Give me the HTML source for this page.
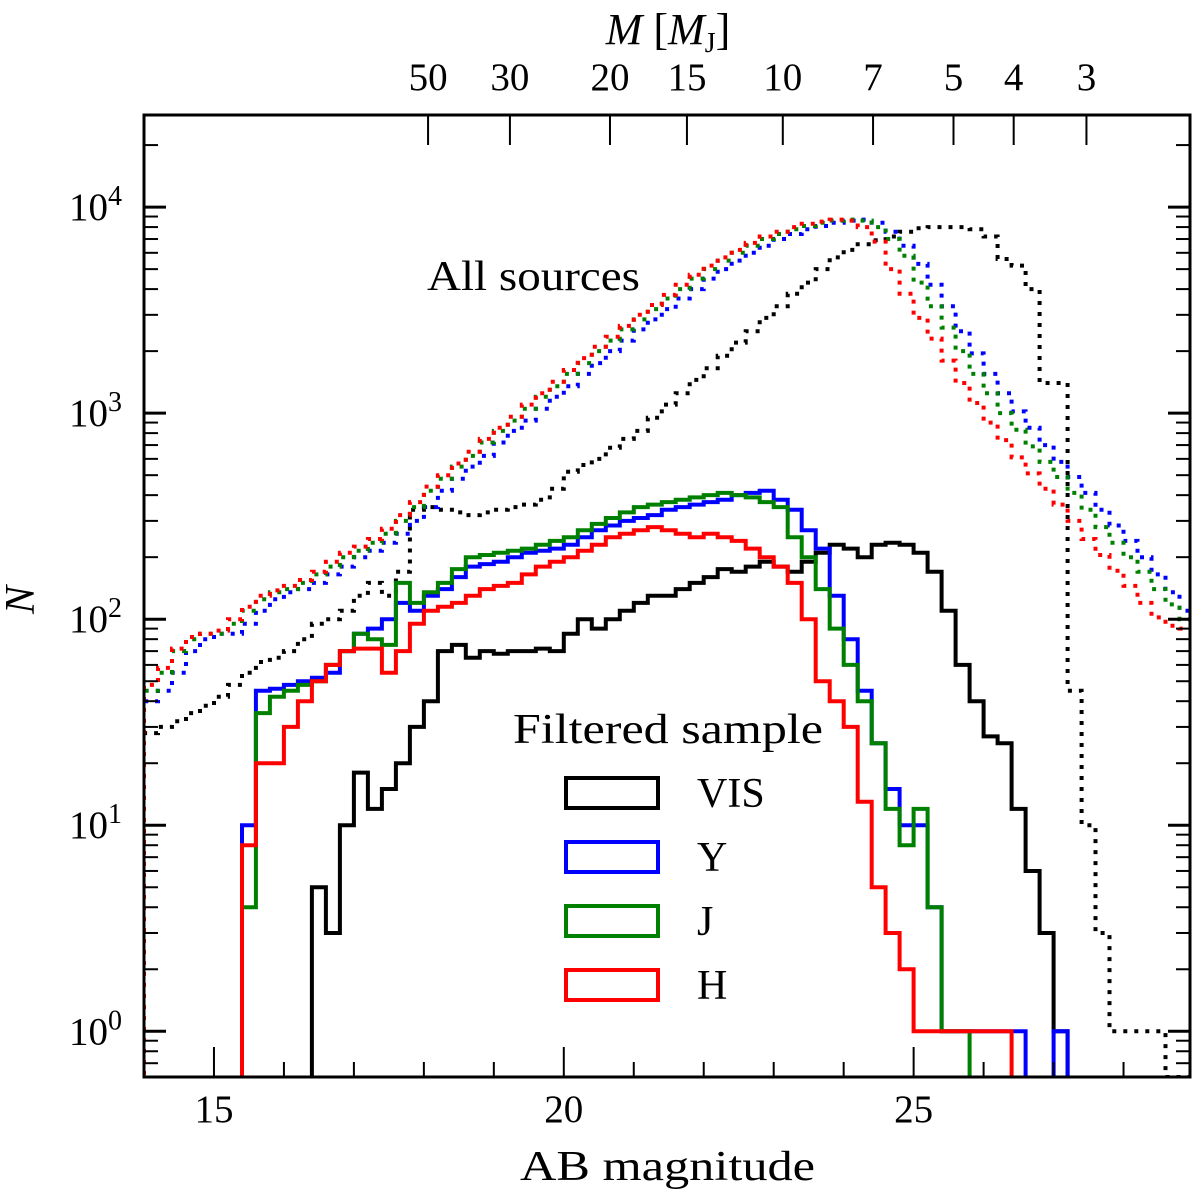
<!DOCTYPE html>
<html><head><meta charset="utf-8"><style>
body{margin:0;background:#fff}
svg text{font-family:"Liberation Serif",serif;fill:#000}
</style></head><body>
<svg id="c" width="1200" height="1198" viewBox="0 0 1200 1198" xmlns="http://www.w3.org/2000/svg"></svg>
<script>
const binStart = 14.0;
const binWidth = 0.2;
const allJ = [45,55,70,80,85,85,95,110,125,135,140,150,165,180,200,215,235,260,300,350,420,480,550,620,720,820,920,1050,1200,1350,1550,1750,2000,2250,2550,2850,3200,3600,4000,4500,5000,5500,6000,6500,7000,7400,7800,8100,8400,8600,8700,8600,8000,7000,5800,4300,3300,2600,2000,1550,1250,1000,830,690,580,490,410,340,280,235,200,170,140,118,100];
const allY = [40,45,55,70,80,85,85,95,110,125,135,140,150,165,180,200,215,235,260,300,350,420,480,550,620,720,820,920,1050,1200,1350,1550,1750,2000,2250,2550,2850,3200,3600,4000,4500,5000,5500,6000,6500,7000,7400,7800,8100,8400,8600,8700,8400,7600,6500,5300,4200,3300,2500,1950,1550,1250,1020,850,700,580,490,410,340,285,240,200,165,135,110];
const allH = [48,58,72,82,85,88,100,115,130,138,145,155,170,190,210,225,245,275,320,370,440,500,570,650,750,850,960,1100,1250,1420,1620,1850,2100,2350,2650,3000,3350,3750,4200,4700,5200,5700,6200,6700,7200,7600,8000,8300,8500,8700,8600,8000,6800,5000,3800,2900,2300,1800,1400,1120,900,740,610,510,430,360,300,245,205,172,145,120,102,93,90];
const allVIS = [28,30,32,35,38,42,48,55,62,65,70,80,95,100,110,130,150,130,170,340,350,340,330,320,330,340,350,360,380,430,520,560,600,680,750,820,950,1100,1250,1450,1650,1900,2200,2500,2900,3300,3800,4300,5000,5700,6200,6600,6900,7200,7600,7900,8000,8000,8000,7800,7200,5600,5200,4000,1400,1400,45,10,3,1,1,1,1,0.6,0.6];
const filtY = [0,0,0,0,0, 0,0,10,45,46, 48,50,52,55,70, 85,90,100,120,110, 130,140,160,180,185, 190,200,210,215,220, 230,250,270,285,300, 310,320,340,350,360, 370,380,400,410,420, 380,340,270,220,130, 80,45,25,15,10, 10,4,1,1,1, 1,1,1,0,0, 1,0,0,0,0, 0,0,0,0,0];
const filtJ = [0,0,0,0,0, 0,0,4,35,42, 45,48,50,60,70, 85,80,75,150,120, 135,150,175,200,205, 210,215,220,230,240, 250,270,290,310,330, 350,360,370,380,390, 400,410,400,390,370, 350,250,200,140,90, 60,40,25,12,8, 12,4,1,1,0, 0,0,0,0,0, 0,0,0,0,0, 0,0,0,0,0];
const filtH = [0,0,0,0,0, 0,0,8,20,20, 30,40,50,60,70, 72,72,55,70,95, 110,115,120,130,140, 145,150,165,180,190, 200,215,230,250,260, 270,280,270,260,250, 260,250,240,220,200, 180,150,100,50,40, 30,13,5,3,2, 1,1,1,1,1, 1,1,0,0,0, 0,0,0,0,0, 0,0,0,0,0];
const filtVIS = [0,0,0,0,0, 0,0,0,0,0, 0,0,5,3,10, 18,12,15,20,30, 40,70,75,65,70, 68,70,70,72,70, 85,100,90,100,110, 120,130,130,140,150, 160,175,170,180,190, 180,170,190,210,230, 220,200,230,235,230, 210,170,110,60,40, 27,25,12,6,3, 1,0,0,0,0, 0,0,0,0,0];
const xTicks = [15,20,25];
const yTicks = [0,1,2,3,4];
const massLabels = ["50","30","20","15","10","7","5","4","3"];
const massMags = [18.06,19.23,20.66,21.76,23.13,24.42,25.57,26.43,27.47];
const legendLabels = ["VIS","Y","J","H"];
const legendColors = ["#000","#0000ff","#008000","#ff0000"];

const NS="http://www.w3.org/2000/svg";
const svg=document.getElementById('c');
const L=144,R=1190,T=115,B=1077;
const xmin=14.0,xmax=28.95,ymin=Math.log10(0.6),ymax=4.447;
const X=v=>L+(v-xmin)/(xmax-xmin)*(R-L);
const Y=n=>B-(Math.log10(n)-ymin)/(ymax-ymin)*(B-T);
function mk(tag,attrs,parent){const e=document.createElementNS(NS,tag);for(const k in attrs)e.setAttribute(k,attrs[k]);(parent||svg).appendChild(e);return e;}

const clip=mk('clipPath',{id:'pc'});mk('rect',{x:L,y:T,width:R-L,height:B-T},clip);

function stepPath(vals){
  let d='';let open=false;
  for(let i=0;i<vals.length;i++){
    const x0=X(binStart+i*binWidth),x1=X(binStart+(i+1)*binWidth);
    const y=vals[i]>0?Y(vals[i]):B+20;
    if(!open){d+='M'+x0.toFixed(1)+','+(B+20)+'L'+x0.toFixed(1)+','+y.toFixed(1);open=true;}
    else d+='L'+x0.toFixed(1)+','+y.toFixed(1);
    d+='L'+x1.toFixed(1)+','+y.toFixed(1);
  }
  return d;
}
const g=mk('g',{'clip-path':'url(#pc)'});


const series=[
 [allVIS,'#000',true,'all-vis-dotted'],[allY,'#0000ff',true,'all-y-dotted'],[allJ,'#008000',true,'all-j-dotted'],[allH,'#ff0000',true,'all-h-dotted'],
 [filtVIS,'#000',false,'filtered-vis-line'],[filtY,'#0000ff',false,'filtered-y-line'],[filtJ,'#008000',false,'filtered-j-line'],[filtH,'#ff0000',false,'filtered-h-line']];
series.forEach(s=>{
  const p=mk('path',{d:stepPath(s[0]),fill:'none',stroke:s[1],'stroke-width':4,'stroke-dasharray':s[2]?'4,7':'none'},g);
  
  
});

const frame=mk('rect',{x:L,y:T,width:R-L,height:B-T,fill:'none',stroke:'#000','stroke-width':3});



for(let v=14;v<=29;v+=1){
  if(v<xmin||v>xmax)continue;
  const major=v%5===0;const len=major?30:15;
  mk('line',{x1:X(v),x2:X(v),y1:B,y2:B-len,stroke:'#000','stroke-width':2});
}
xTicks.forEach(v=>{
  const t=mk('text',{x:X(v),y:B+45,'font-size':39,'text-anchor':'middle'});t.textContent=v;
  
  
});
yTicks.forEach(p=>{
  const y=Y(Math.pow(10,p));
  mk('line',{x1:L,x2:L+22,y1:y,y2:y,stroke:'#000','stroke-width':3});
  mk('line',{x1:R,x2:R-22,y1:y,y2:y,stroke:'#000','stroke-width':3});
  const t=mk('text',{x:L-22,y:y+13,'font-size':39,'text-anchor':'end'});
  t.innerHTML='10<tspan dy="-15" font-size="28">'+p+'</tspan>';
  
  
});
for(let p=-1;p<=4;p++)for(let k=2;k<=9;k++){
  const n=k*Math.pow(10,p);const ly=Math.log10(n);if(ly<ymin||ly>ymax)continue;
  const y=Y(n);
  mk('line',{x1:L,x2:L+14,y1:y,y2:y,stroke:'#000','stroke-width':2});
  mk('line',{x1:R,x2:R-14,y1:y,y2:y,stroke:'#000','stroke-width':2});
}
massMags.forEach((m,i)=>{
  mk('line',{x1:X(m),x2:X(m),y1:T,y2:T+30,stroke:'#000','stroke-width':2});
  const t=mk('text',{x:X(m),y:T-25,'font-size':39,'text-anchor':'middle'});t.textContent=massLabels[i];
  
  
});
let t=mk('text',{x:668,y:44,'font-size':44,'text-anchor':'middle'});
t.innerHTML='<tspan font-style="italic">M</tspan> [<tspan font-style="italic">M</tspan><tspan font-size="28" dy="8">J</tspan><tspan dy="-8">]</tspan>';


t=mk('text',{x:520,y:1180,'font-size':42,textLength:295,lengthAdjust:'spacingAndGlyphs'});t.textContent='AB magnitude';


t=mk('text',{x:34,y:600,'font-size':42,'text-anchor':'middle','font-style':'italic',transform:'rotate(-90 34 600)'});t.textContent='N';


t=mk('text',{x:427,y:290,'font-size':42,textLength:213,lengthAdjust:'spacingAndGlyphs'});t.textContent='All sources';


t=mk('text',{x:513,y:743,'font-size':42,textLength:310,lengthAdjust:'spacingAndGlyphs'});t.textContent='Filtered sample';


legendLabels.forEach((lab,i)=>{
  const cy=793+i*64;
  const r=mk('rect',{x:566,y:cy-15,width:92,height:30,fill:'none',stroke:legendColors[i],'stroke-width':4});
  
  
  const tt=mk('text',{x:697,y:cy+14,'font-size':42});tt.textContent=lab;
  
  
});
</script>
</body></html>
